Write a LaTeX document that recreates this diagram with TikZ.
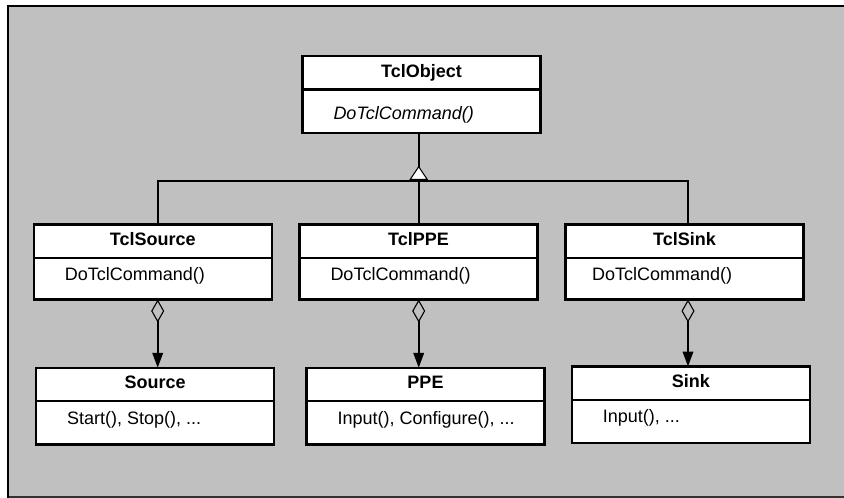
\documentclass[tikz,border=0pt]{standalone}
\usepackage{fontspec}
\setmainfont{Liberation Sans}
\usetikzlibrary{arrows.meta}
\definecolor{panelgray}{RGB}{192,192,192}
\newcommand\cellw{238pt}
% centred class name / left-set member list, both as wide as a class box
\newcommand\headtext[1]{\makebox[\cellw]{\bfseries #1}}
\newcommand\membertext[2][31pt]{\makebox[\cellw][l]{\hspace*{#1}#2}}

\begin{document}
\begin{tikzpicture}[x=1pt,y=-1pt,
  umlpart/.style={draw=black, line width=2.3pt, fill=white, inner sep=0pt,
    outer sep=0pt, anchor=north west, font=\fontsize{18}{21}\selectfont},
  headpart/.style={umlpart, text height=21pt, text depth=#1},
  bodypart/.style={umlpart, text height=23pt, text depth=#1},
  link/.style={line width=2pt},
  agg/.style={link,
    {Diamond[open, length=23pt, width=13pt, line width=1.1pt]}-{Triangle[length=15pt, width=10.5pt]}},
]
\useasboundingbox (0,0) rectangle (844,498);

% grey panel with its frame
\fill[panelgray] (8.3,5.8) rectangle (844,497);
\draw[line width=1.4pt, black!80] (8.3,496.8) -- (844,496.8);
\draw[line width=2pt] (8.3,497.5) -- (8.3,5.8) -- (844,5.8);

% base class
\node[headpart=12.3pt] (tclobject) at (302.5,56.2) {\headtext{TclObject}};
\node[bodypart=13.3pt, text height=30pt] (tclobjectbody) at (tclobject.south west)
  {\membertext{\itshape DoTclCommand()}};

% Tcl wrapper classes
\node[headpart=12.3pt] (tclsource) at (33.8,224.5) {\headtext{TclSource}};
\node[bodypart=18.7pt] (tclsourcebody) at (tclsource.south west) {\membertext{DoTclCommand()}};

\node[headpart=12.3pt] (tclppe) at (299.5,224.5) {\headtext{TclPPE}};
\node[bodypart=18.7pt] (tclppebody) at (tclppe.south west) {\membertext{DoTclCommand()}};

\node[headpart=12.3pt] (tclsink) at (565.5,224.5) {\headtext{TclSink}};
\node[bodypart=18.7pt] (tclsinkbody) at (tclsink.south west) {\membertext[26.5pt]{DoTclCommand()}};

% wrapped classes
\node[headpart=12.4pt] (source) at (36.2,367.8) {\headtext{Source}};
\node[bodypart=20.3pt] (sourcebody) at (source.south west) {\membertext{Start(), Stop(), ...}};

\node[headpart=12.4pt] (ppe) at (306.5,367.8) {\headtext{PPE}};
\node[bodypart=20.3pt] (ppebody) at (ppe.south west) {\membertext{Input(), Configure(), ...}};

\node[headpart=12.4pt] (sink) at (571.8,366.5) {\headtext{Sink}};
\node[bodypart=20.3pt] (sinkbody) at (sink.south west) {\membertext{Input(), ...}};

% inheritance tree
\coordinate (colA) at (157.7,181);
\coordinate (colB) at (418.7,181);
\coordinate (colC) at (688,181);
\draw[link] (tclsource.north -| colA) -- (colA) -- (colC) -- (tclsink.north -| colC);
\draw[link] (colB) -- (tclppe.north -| colB);
\draw[link] (tclobjectbody.south -| colB) -- (colB);
\draw[line width=1pt, fill=white] ([yshift=14.3pt]colB) -- ([xshift=-8.4pt,yshift=1.7pt]colB)
  -- ([xshift=8.4pt,yshift=1.7pt]colB) -- cycle;

% aggregations
\draw[agg] (tclsourcebody.south -| colA) -- (source.north -| colA);
\draw[agg] (tclppebody.south -| colB) -- (ppe.north -| colB);
\draw[agg] (tclsinkbody.south -| colC) -- (sink.north -| colC);
\end{tikzpicture}
\end{document}
